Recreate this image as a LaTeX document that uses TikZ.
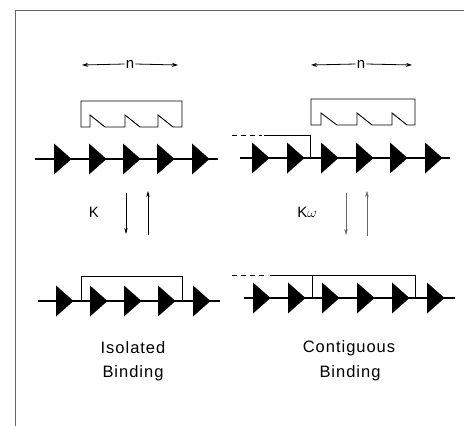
\documentclass[tikz,border=0pt]{standalone}
\usepackage{fontspec}
\setmainfont{Liberation Sans}
\newfontfamily\lblfont[LetterSpace=6]{Liberation Sans}
\usetikzlibrary{arrows.meta}
\begin{document}
\begin{tikzpicture}[x=1pt,y=-1pt,
  frame/.style={line width=0.9pt, black!60},
  chainline/.style={line width=1.1pt},
  boxline/.style={line width=0.9pt},
  tip/.style={fill=black},
  harrow/.style={line width=0.8pt,-{Stealth[length=6pt,width=4pt]}},
  varrow/.style={line width=0.7pt,-{Stealth[length=6pt,width=3.5pt]}},
  farrow/.style={line width=0.45pt,black!60,-{Stealth[length=6pt,width=3.5pt]}},
  dashline/.style={line width=0.9pt, dash pattern=on 5pt off 4pt},
  lbl/.style={font=\lblfont\fontsize{16.5}{19}\selectfont, inner sep=0pt},
  sym/.style={font=\fontsize{15}{17}\selectfont, inner sep=1pt},
]
\useasboundingbox (0,0) rectangle (464,426);
% frame
\draw[frame] (15,426) -- (15,10) -- (464,10);

%================ LEFT PANEL ================
% n arrow
\node[sym] (nL) at (130,64) {n};
\coordinate (nLa) at (82,65);
\coordinate (nLb) at (178,65);
\draw[harrow] (nL.west) -- (nLa);
\draw[harrow] (nL.east) -- (nLb);
% comb
\draw[boxline] (81,127) -- (90,127) -- (90,115) -- (105,127) -- (125,127) -- (125,115)
  -- (140,127) -- (158,127) -- (158,115) -- (173,127) -- (182,127) -- (182,101)
  -- (81,101) -- cycle;
% top chain
\draw[chainline] (35,159) -- (218,159);
\foreach \x in {54,89,123,157,192}
  \fill[tip] (\x,159) ++(0,-15.5) -- ++(17.5,15.5) -- ++(-17.5,15.5) -- cycle;
% K arrows
\node[sym] (K) at (94,212) {K};
\coordinate (dLa) at (126,193); \coordinate (dLb) at (126,234);
\coordinate (uLa) at (148,235); \coordinate (uLb) at (148,191);
\draw[varrow] (dLa) -- (dLb);
\draw[varrow] (uLa) -- (uLb);
% bottom chain
\draw[chainline] (38,301) -- (220,301);
\foreach \x in {56,90,124,158,193}
  \fill[tip] (\x,301) ++(0,-15.5) -- ++(17.5,15.5) -- ++(-17.5,15.5) -- cycle;
\draw[boxline] (81,301) -- (81,276) -- (182,276) -- (182,301);
% label
\node[lbl] (iso1) at (133,348) {Isolated};
\node[lbl] (iso2) at (133,373) {Binding};

%================ RIGHT PANEL ================
\node[sym] (nR) at (361,64) {n};
\coordinate (nRa) at (311,65);
\coordinate (nRb) at (412,65);
\draw[harrow] (nR.west) -- (nRa);
\draw[harrow] (nR.east) -- (nRb);
% comb
\draw[boxline] (311,125) -- (321,125) -- (321,113) -- (337,125) -- (357,125) -- (357,113)
  -- (372,125) -- (392,125) -- (392,113) -- (407,125) -- (415,125) -- (415,99)
  -- (311,99) -- cycle;
% bracket of neighbour (top)
\draw[dashline] (232,135) -- (262,135);
\draw[boxline] (264,135) -- (310,135) -- (310,158);
% top chain
\draw[chainline] (240,158) -- (450,158);
\foreach \x in {252,287,321,356,390,425}
  \fill[tip] (\x,158) ++(0,-15.5) -- ++(17.5,15.5) -- ++(-17.5,15.5) -- cycle;
% Kw arrows
\node[sym] (Kw) at (307,212) {K$\omega$};
\coordinate (dRa) at (346,193); \coordinate (dRb) at (346,235);
\coordinate (uRa) at (367,236); \coordinate (uRb) at (367,191);
\draw[farrow] (dRa) -- (dRb);
\draw[farrow] (uRa) -- (uRb);
% bottom chain
\draw[chainline] (244,298) -- (455,298);
\foreach \x in {253,288,322,357,392,427}
  \fill[tip] (\x,298) ++(0,-15.5) -- ++(17.5,15.5) -- ++(-17.5,15.5) -- cycle;
\draw[dashline] (232,275) -- (268,275);
\draw[boxline] (270,275) -- (415,275) -- (415,298);
\draw[boxline] (312,275) -- (312,298);
% label
\node[lbl] (con1) at (349,348) {Contiguous};
\node[lbl] (con2) at (350,373) {Binding};
\end{tikzpicture}
\end{document}
